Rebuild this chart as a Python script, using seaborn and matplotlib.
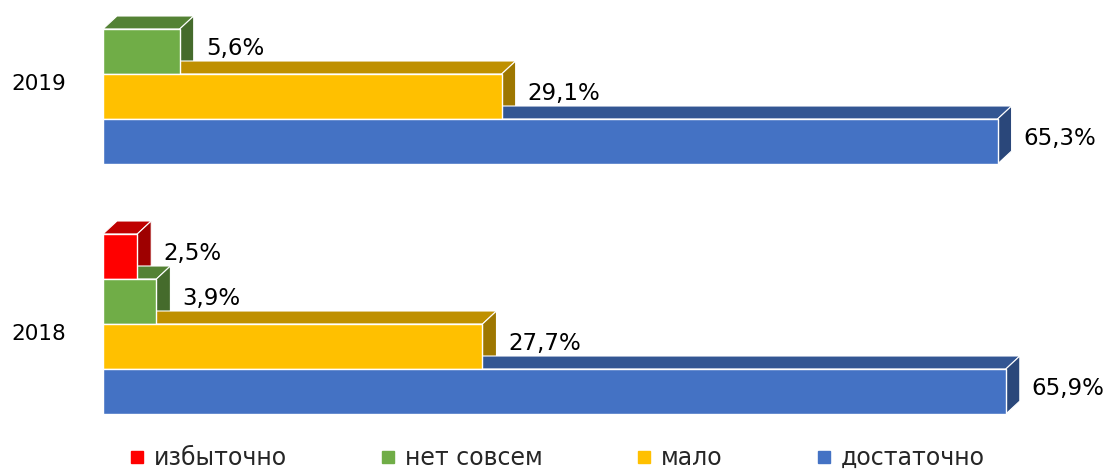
import numpy as np
import pandas as pd
import matplotlib
matplotlib.use("Agg")
import matplotlib.pyplot as plt
import seaborn as sns
from matplotlib.patches import Polygon
from matplotlib.lines import Line2D
from matplotlib.colors import to_rgb

# data
years = ["2019", "2018"]
categories = ["избыточно", "нет совсем", "мало", "достаточно"]
values_2019 = [0.0, 5.6, 29.1, 65.3]
values_2018 = [2.5, 3.9, 27.7, 65.9]
colors = ["#FF0000", "#70AD47", "#FFC000", "#4472C4"]


def darker(c, f):
    r, g, b = to_rgb(c)
    return (r * f, g * f, b * f)


def build_frame():
    rows = []
    for year, vals in zip(years, [values_2019, values_2018]):
        for cat, v in zip(categories, vals):
            rows.append({"year": year, "category": cat, "value": v})
    return pd.DataFrame(rows)


def main():
    sns.set_style("white")
    plt.rcParams['font.family'] = ['DejaVu Sans']

    df = build_frame()
    fig = plt.figure(figsize=(11.1, 4.7), dpi=100)
    W, H = 1110, 470
    # axes placed in pixel terms: x 0 at px 103, 13.7 px per percent
    px_per_x = 13.7
    xmax = 70
    ax = fig.add_axes([103 / W, 50 / H, xmax * px_per_x / W, 420 / H])

    sns.barplot(data=df, y="year", x="value", hue="category", order=years,
                hue_order=categories, palette=colors, orient="h", width=0.72,
                saturation=1, edgecolor="white", linewidth=1, legend=False, ax=ax)

    px_per_y = 250
    ax.set_xlim(0, xmax)
    ax.set_ylim((420 - 74) / px_per_y, -74 / px_per_y)
    ax.axis("off")

    # 3D depth faces drawn behind the front faces
    dx = 14 / px_per_x
    dy = -13 / px_per_y
    for p in ax.patches:
        p.set_zorder(3)
        w = p.get_width()
        if w <= 0:
            continue
        y0 = p.get_y()
        h = p.get_height()
        ytop = min(y0, y0 + h)
        ybot = max(y0, y0 + h)
        fc = p.get_facecolor()
        top = Polygon([(0, ytop), (w, ytop), (w + dx, ytop + dy), (dx, ytop + dy)],
                      closed=True, facecolor=darker(fc[:3], 0.75),
                      edgecolor="white", linewidth=0.8, zorder=2)
        side = Polygon([(w, ytop), (w, ybot), (w + dx, ybot + dy), (w + dx, ytop + dy)],
                       closed=True, facecolor=darker(fc[:3], 0.62),
                       edgecolor="white", linewidth=0.8, zorder=2)
        ax.add_patch(top)
        ax.add_patch(side)
        label = f"{w:.1f}".replace(".", ",") + "%"
        ax.text(w + dx + 12 / px_per_x, (ytop + ybot) / 2 - 3 / px_per_y, label,
                ha="left", va="center", fontsize=16.5, color="black", zorder=4)

    # year labels
    for j, year in enumerate(years):
        ax.text(-64 / px_per_x, j + 10 / px_per_y, year, ha="center", va="center",
                fontsize=15.5, color="black", clip_on=False)

    handles = [Line2D([0], [0], marker="s", linestyle="none", markersize=9,
                      markerfacecolor=c, markeredgecolor=c) for c in colors]
    fig.legend(handles, categories, loc="center", bbox_to_anchor=(0.5, 1 - 458 / H),
               ncol=4, frameon=False, fontsize=17, handletextpad=0.2,
               columnspacing=3.8, handlelength=1.0)

    fig.savefig("out.png", dpi=100)
    plt.close(fig)


if __name__ == "__main__":
    main()
